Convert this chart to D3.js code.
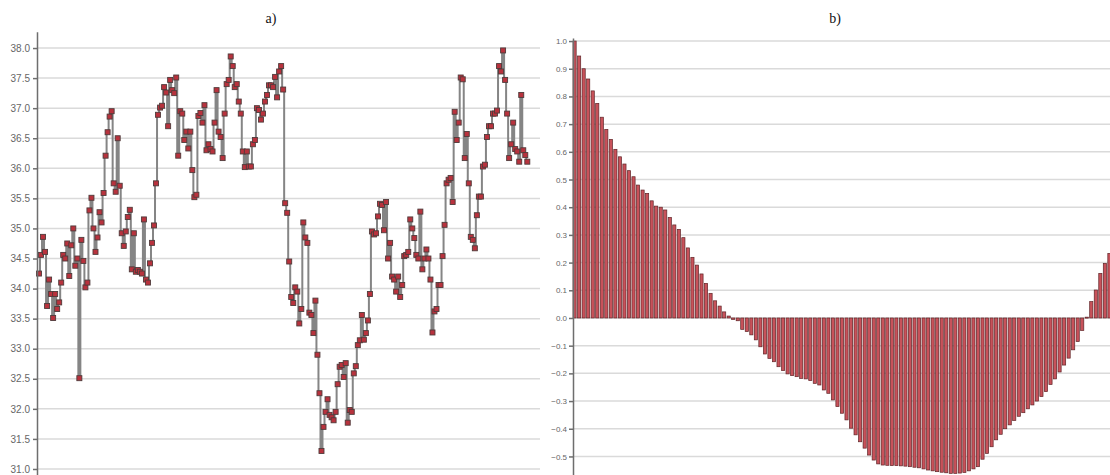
<!DOCTYPE html>
<html>
<head>
<meta charset="utf-8">
<script src="https://cdn.jsdelivr.net/npm/d3@7"></script>
<style>
    body { margin: 0; background: #fff; }
    svg { display: block; }
    .grid { stroke: #dadada; stroke-width: 1.5; }
    .axis path, .axis line { stroke: #6e6e6e; stroke-width: 1.5; }
    .axis text { fill: #666; font-family: "Liberation Sans", Arial, sans-serif; }
    .title { font-family: "Liberation Serif", "Times New Roman", serif; font-size: 14px; fill: #111; }
</style>
</head>
<body>
<svg id="chart" width="1110" height="475"></svg>
<script>
// a) daily series in order
const temps = [
    34.25, 34.56, 34.86, 34.61, 33.71, 34.15, 33.91, 33.51, 33.91, 33.66,
    33.77, 34.10, 34.56, 34.50, 34.75, 34.21, 34.72, 35.00, 34.38, 34.50,
    32.51, 34.81, 34.46, 34.02, 34.10,
    35.30, 35.51, 35.00, 34.61, 34.85, 35.27, 35.10, 35.59, 36.21, 36.60,
    36.86, 36.95, 35.75, 35.61, 36.50, 35.71, 34.92, 34.71, 34.95, 35.19,
    35.31, 34.32, 34.92, 34.28, 34.31, 34.28, 34.25, 35.15, 34.15, 34.10,
    34.42, 34.76, 35.05, 35.75, 36.89, 37.01, 37.04, 37.35, 37.26, 36.70,
    37.47, 37.30, 37.25, 37.51, 36.21, 36.95, 36.91, 36.47, 36.61, 36.33,
    36.61, 35.97, 35.52, 35.56, 36.87, 36.92, 36.76, 37.05, 36.30, 36.40,
    36.32, 36.28, 36.76, 37.30, 36.61, 36.52, 36.17, 36.91, 37.40, 37.47,
    37.86, 37.70, 37.35, 37.40, 37.11, 36.91, 36.28, 36.02, 36.28, 36.03,
    36.03, 36.40, 36.47, 37.00, 36.97, 36.81, 36.91, 37.11, 37.22, 37.38,
    37.38, 37.35, 37.52, 37.18, 37.61, 37.70, 37.31,
    35.42, 35.26, 34.45, 33.86, 33.76, 34.02, 33.95, 33.42, 33.66, 35.10,
    34.85, 34.76, 33.60, 33.56, 33.26, 33.80, 32.90, 32.26, 31.30, 31.70,
    31.95, 32.16, 31.90, 31.86, 31.81, 31.95, 32.41, 32.70, 32.73, 32.53,
    32.76, 31.77, 31.98, 31.95, 32.59, 32.71, 33.06, 33.14, 33.56, 33.15,
    33.26, 33.47, 33.91,
    34.95, 34.90, 34.92, 35.20, 35.41, 35.39, 34.97, 35.44, 34.50, 34.76,
    34.20, 34.15, 33.95, 34.20, 33.86, 34.06, 34.54, 34.56, 34.61, 35.15,
    35.00, 34.84, 34.56, 34.50, 35.28, 34.32, 34.50, 34.65, 34.50, 34.15,
    33.27, 33.62, 33.66, 34.06, 34.06, 34.54, 35.06, 35.75, 35.81, 35.84,
    35.44, 36.94, 36.47, 36.76, 37.51, 37.48, 36.17, 36.57, 35.75,
    34.86, 34.81, 34.67, 35.22, 35.53, 35.53, 36.03, 36.06, 36.52, 36.70,
    36.70, 36.91, 36.91, 36.96, 37.70, 37.61, 37.96, 37.47, 36.91, 36.17,
    36.40, 36.76, 36.32, 36.28, 36.11, 37.22, 36.30, 36.22, 36.11
];
const tempTicks = [31.0, 31.5, 32.0, 32.5, 33.0, 33.5, 34.0, 34.5, 35.0, 35.5, 36.0, 36.5, 37.0, 37.5, 38.0];

// b) autocorrelation by lag
const acf = [
    1.0, 0.946, 0.90, 0.863, 0.82, 0.775, 0.725, 0.681, 0.645, 0.609,
    0.582, 0.556, 0.532, 0.51, 0.48, 0.462, 0.45, 0.423, 0.404, 0.40,
    0.39, 0.363, 0.336, 0.32, 0.29, 0.253, 0.219, 0.191, 0.159, 0.125,
    0.089, 0.062, 0.043, 0.022, 0.007, -0.005, -0.01, -0.041, -0.049, -0.061,
    -0.079, -0.104, -0.13, -0.146, -0.158, -0.176, -0.19, -0.202, -0.208, -0.212,
    -0.218, -0.22, -0.226, -0.236, -0.242, -0.26, -0.272, -0.296, -0.32, -0.344,
    -0.368, -0.398, -0.422, -0.447, -0.47, -0.495, -0.513, -0.527, -0.531, -0.532,
    -0.533, -0.533, -0.534, -0.535, -0.537, -0.539, -0.541, -0.545, -0.549, -0.552,
    -0.555, -0.557, -0.559, -0.561, -0.561, -0.56, -0.558, -0.552, -0.545, -0.537,
    -0.51, -0.489, -0.465, -0.44, -0.42, -0.4, -0.386, -0.37, -0.355, -0.342,
    -0.328, -0.314, -0.3, -0.284, -0.266, -0.24, -0.22, -0.195, -0.17, -0.145,
    -0.115, -0.085, -0.045, 0.003, 0.059, 0.101, 0.161, 0.197, 0.233
];
const acfTicks = [-0.5, -0.4, -0.3, -0.2, -0.1, 0.0, 0.1, 0.2, 0.3, 0.4, 0.5, 0.6, 0.7, 0.8, 0.9, 1.0];

const svg = d3.select('#chart');
const fmt = d3.format('.1f');

// ---------- a) ----------
const xA = d3.scaleLinear().domain([0, temps.length - 1]).range([39, 527.3]);
const yA = d3.scaleLinear().domain([30.9, 38.27]).range([475, 31.8]);

const gA = svg.append('g');

gA.selectAll('line.grid')
    .data(tempTicks)
    .enter()
    .append('line')
    .attr('class', 'grid')
    .attr('x1', 37).attr('x2', 540)
    .attr('y1', d => yA(d)).attr('y2', d => yA(d));

// stepped joins give the near-vertical risers of the original
gA.append('path')
    .datum(temps)
    .attr('fill', 'none')
    .attr('stroke', '#858585')
    .attr('stroke-width', 2)
    .attr('d', d3.line().curve(d3.curveStep).x((d, i) => xA(i)).y(d => yA(d)));

gA.selectAll('rect.pt')
    .data(temps)
    .enter()
    .append('rect')
    .attr('class', 'pt')
    .attr('x', (d, i) => xA(i) - 2.5)
    .attr('y', d => yA(d) - 2.5)
    .attr('width', 5)
    .attr('height', 5)
    .attr('fill', '#b8323d')
    .attr('stroke', '#4f3b3b')
    .attr('stroke-width', 0.9);

const axA = gA.append('g')
    .attr('class', 'axis')
    .attr('transform', 'translate(37,0)')
    .call(d3.axisLeft(yA).tickValues(tempTicks).tickFormat(fmt).tickSize(4).tickSizeOuter(0).tickPadding(3));
axA.selectAll('text').style('font-size', '10px');

gA.append('text')
    .attr('class', 'title')
    .attr('x', 271).attr('y', 23)
    .attr('text-anchor', 'middle')
    .text('a)');

// ---------- b) ----------
const xB = d3.scaleBand().domain(d3.range(acf.length)).range([573, 1111]).paddingInner(0.3).paddingOuter(0);
const yB = d3.scaleLinear().domain([-0.567, 1.011]).range([475, 38]);

const gB = svg.append('g');

gB.selectAll('line.grid')
    .data(acfTicks)
    .enter()
    .append('line')
    .attr('class', 'grid')
    .attr('x1', 573).attr('x2', 1110)
    .attr('y1', d => yB(d)).attr('y2', d => yB(d));

gB.selectAll('rect.bar')
    .data(acf)
    .enter()
    .append('rect')
    .attr('class', 'bar')
    .attr('x', (d, i) => xB(i))
    .attr('width', xB.bandwidth())
    .attr('y', d => yB(Math.max(0, d)))
    .attr('height', d => Math.max(1, Math.abs(yB(d) - yB(0))))
    .attr('fill', '#c8525a')
    .attr('stroke', '#5e2427')
    .attr('stroke-width', 0.7);

const axB = gB.append('g')
    .attr('class', 'axis')
    .attr('transform', 'translate(573,0)')
    .call(d3.axisLeft(yB).tickValues(acfTicks).tickFormat(fmt).tickSize(4).tickSizeOuter(0).tickPadding(2));
axB.selectAll('text').style('font-size', '8px');

gB.append('text')
    .attr('class', 'title')
    .attr('x', 835).attr('y', 23)
    .attr('text-anchor', 'middle')
    .text('b)');
</script>
</body>
</html>
